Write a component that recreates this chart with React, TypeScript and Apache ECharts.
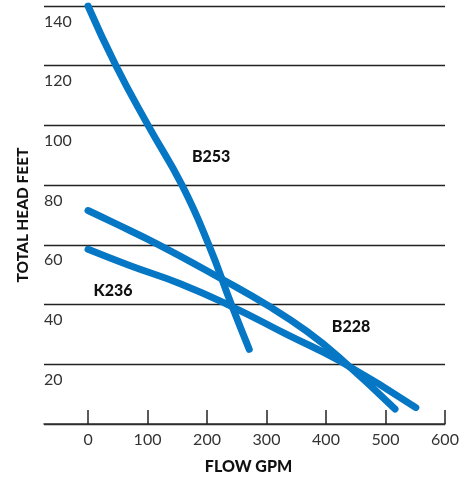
import React, { useEffect, useRef } from "react";
import * as echarts from "echarts";

const xTicks = [0, 100, 200, 300, 400, 500, 600];
const b253: [number, number][] = [
  [0, 140], [47, 120], [101, 100], [158, 80], [203, 60], [241, 40], [271, 25],
];
const b228: [number, number][] = [
  [0, 71.5], [42, 67.5], [119, 60], [227, 48.3], [303, 39.6], [368, 31], [424, 22], [516, 5],
];
const k236: [number, number][] = [
  [0, 58.5], [71, 53], [155, 47], [240, 39.5], [334, 30], [424, 21], [551, 5.5],
];
const seriesNames = ["B253", "B228", "K236"];
const labelAnchors: [number, number][] = [
  [207, 90],
  [442, 33],
  [42, 45],
];

export default function App() {
  const ref = useRef<HTMLDivElement>(null);
  useEffect(() => {
    if (!ref.current) return;
    const chart = echarts.init(ref.current, null, { renderer: "svg" });
    const font = "Lato, 'Open Sans', sans-serif";
    const lineStyle = { color: "#0677c4", width: 7, cap: "round", join: "round" };
    const datasets = [b253, b228, k236];
    chart.setOption({
      animation: false,
      grid: { left: 44, right: 24, top: 6, bottom: 51 },
      xAxis: {
        type: "value",
        min: -74,
        max: 600,
        name: "FLOW GPM",
        nameLocation: "middle",
        nameGap: 33,
        nameTextStyle: { fontFamily: font, fontWeight: 900, fontSize: 16, color: "#111", padding: [0, 0, 0, 8] },
        axisLine: { show: true, lineStyle: { color: "#333", width: 1.5 } },
        axisTick: { show: true, inside: true, length: 14, customValues: xTicks, lineStyle: { color: "#222", width: 1.5 } },
        axisLabel: { customValues: xTicks, fontFamily: font, fontSize: 16, color: "#333", margin: 6 },
        splitLine: { show: false },
      },
      yAxis: {
        type: "value",
        min: 0,
        max: 140,
        interval: 20,
        name: "TOTAL HEAD FEET",
        nameLocation: "middle",
        nameGap: 14,
        nameTextStyle: { fontFamily: font, fontWeight: 900, fontSize: 15.5, color: "#111" },
        axisLine: { show: false },
        axisTick: { show: false },
        axisLabel: {
          inside: true,
          margin: 0,
          showMinLabel: false,
          align: "left",
          verticalAlign: "top",
          padding: [6, 0, 0, 0],
          fontFamily: font,
          fontSize: 16,
          color: "#333",
        },
        splitLine: { show: true, lineStyle: { color: "#222", width: 1.4 } },
      },
      series: datasets.map((d, i) => ({
        type: "line",
        name: seriesNames[i],
        data: d,
        smooth: 0.5,
        symbol: "none",
        lineStyle,
        markPoint: {
          symbol: "circle",
          symbolSize: 0,
          data: [{ coord: labelAnchors[i] }],
          label: {
            show: true,
            formatter: seriesNames[i],
            position: "inside",
            fontFamily: font,
            fontWeight: 900,
            fontSize: 16,
            color: "#111",
          },
        },
      })),
    });
    return () => chart.dispose();
  }, []);
  return <div ref={ref} style={{ position: "fixed", left: 0, top: 0, width: 469, height: 478 }} />;
}
